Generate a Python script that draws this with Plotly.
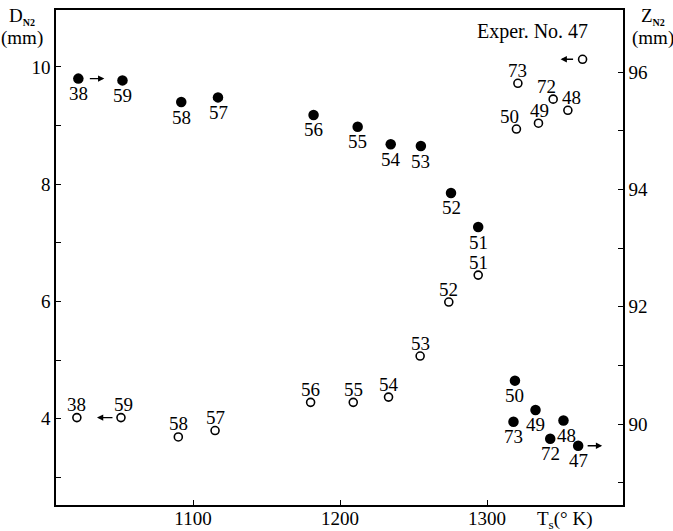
import plotly.graph_objects as go

# ---- data ----
run_D = ["38", "59", "58", "57", "56", "55", "54", "53", "52", "51", "50", "73", "49", "48", "72", "47"]
Ts_D = [1022, 1052, 1092, 1117, 1182, 1212, 1234.5, 1255, 1275.5, 1294, 1319, 1318, 1333, 1352, 1343, 1362]
D_N2 = [9.80, 9.77, 9.40, 9.48, 9.18, 8.98, 8.68, 8.65, 7.85, 7.27, 4.65, 3.95, 4.15, 3.97, 3.66, 3.54]

run_Z = ["38", "59", "58", "57", "56", "55", "54", "53", "52", "51", "50", "49", "72", "48", "73", ""]
Ts_Z = [1021, 1051, 1090, 1115, 1180, 1209, 1233, 1254.5, 1274, 1294, 1320, 1335, 1345, 1355, 1321, 1365]
Z_N2 = [90.11, 90.11, 89.78, 89.89, 90.37, 90.37, 90.46, 91.16, 92.08, 92.54, 95.03, 95.13, 95.54, 95.35, 95.81, 96.22]

x_ticks = [1100, 1200, 1300]
d_ticks = [4, 6, 8, 10]
z_ticks = [90, 92, 94, 96]

# label pixel offsets (style)
lab_dx_D = [0, 0, 0, 0, 0, 0, 0, 0, 0, 0, 0, 0, 0, 3, 0, 0]
lab_dx_Z = [0, 3, 0, 0, 0, 0, 0, 0, 0, 0, -7, 1, -7, 4, 0, 0]

FONT = "Liberation Serif"
x_range = [1006.8, 1392.5]
d_range = [2.53, 10.97]
z_range = [88.62, 97.06]

fig = go.Figure()
fig.add_trace(go.Scatter(x=Ts_D, y=D_N2, mode="markers",
                         marker=dict(symbol="circle", size=10.5, color="black"),
                         showlegend=False, yaxis="y"))
fig.add_trace(go.Scatter(x=Ts_Z, y=Z_N2, mode="markers",
                         marker=dict(symbol="circle-open", size=8, color="black",
                                     line=dict(width=1.6, color="black")),
                         showlegend=False, yaxis="y2"))

ann = []
for t, x, y, dx in zip(run_D, Ts_D, D_N2, lab_dx_D):
    ann.append(dict(x=x, y=y, xref="x", yref="y", text=t, showarrow=False,
                    xshift=dx, yshift=-15, font=dict(family=FONT, size=19, color="black")))
for t, x, y, dx in zip(run_Z, Ts_Z, Z_N2, lab_dx_Z):
    if t:
        ann.append(dict(x=x, y=y, xref="x", yref="y2", text=t, showarrow=False,
                        xshift=dx, yshift=13, font=dict(family=FONT, size=19, color="black")))

arrow_style = dict(showarrow=True, text="", arrowhead=2, arrowsize=0.9,
                   arrowwidth=1.4, arrowcolor="black", axref="pixel", ayref="pixel", ay=0)
# filled 38 -> right ; filled 47 -> right ; open 59 <- left ; open 47 <- left
ann.append(dict(x=Ts_D[0], y=D_N2[0], xref="x", yref="y", xshift=26, ax=-16, **arrow_style))
ann.append(dict(x=Ts_D[-1], y=D_N2[-1], xref="x", yref="y", xshift=24, ax=-16, **arrow_style))
ann.append(dict(x=Ts_Z[1], y=Z_N2[1], xref="x", yref="y2", xshift=-24, ax=17, **arrow_style))
ann.append(dict(x=Ts_Z[-1], y=Z_N2[-1], xref="x", yref="y2", xshift=-22, ax=14, **arrow_style))

# titles
L, R, T, B = 56, 50, 10, 26
W, H = 673, 531
pw, ph = W - L - R, H - T - B
def px(xp):
    return (xp - L) / pw
def py(yp):
    return (H - B - yp) / ph

txt = dict(showarrow=False, xref="paper", yref="paper", xanchor="center", yanchor="middle",
           font=dict(family=FONT, size=19, color="black"))
ann.append(dict(x=px(22), y=py(17), text="D<sub><b><span style='font-size:10px'>N2</span></b></sub>", **txt))
ann.append(dict(x=px(22), y=py(38), text="(mm)", **txt))
ann.append(dict(x=px(653), y=py(17), text="Z<sub><b><span style='font-size:10px'>N2</span></b></sub>", **txt))
ann.append(dict(x=px(653), y=py(38), text="(mm)", **txt))
ann.append(dict(x=px(565), y=py(520), text="T<sub>s</sub>(° K)", **txt))
ann.append(dict(x=px(532), y=py(32), text="Exper. No. 47", **dict(txt, font=dict(family=FONT, size=20, color="black"))))

axis_common = dict(showline=True, linecolor="black", linewidth=1.5, showgrid=False,
                   zeroline=False, ticks="inside", ticklen=5, tickwidth=1.2, tickcolor="black",
                   tickfont=dict(family=FONT, size=19, color="black"))

fig.update_layout(
    width=W, height=H, margin=dict(l=L, r=R, t=T, b=B, autoexpand=False),
    plot_bgcolor="white", paper_bgcolor="white",
    xaxis=dict(range=x_range, tickvals=x_ticks, mirror=True, ticklabelstandoff=-5, **axis_common),
    yaxis=dict(range=d_range, tickvals=d_ticks,
               minor=dict(tickvals=[3, 5, 7, 9], ticks="inside", ticklen=5, tickcolor="black"),
               **axis_common),
    yaxis2=dict(range=z_range, tickvals=z_ticks, overlaying="y", side="right",
                minor=dict(tickvals=[89, 91, 93, 95], ticks="inside", ticklen=5, tickcolor="black"),
                **axis_common),
    annotations=ann,
)
fig.write_html("out.html")
